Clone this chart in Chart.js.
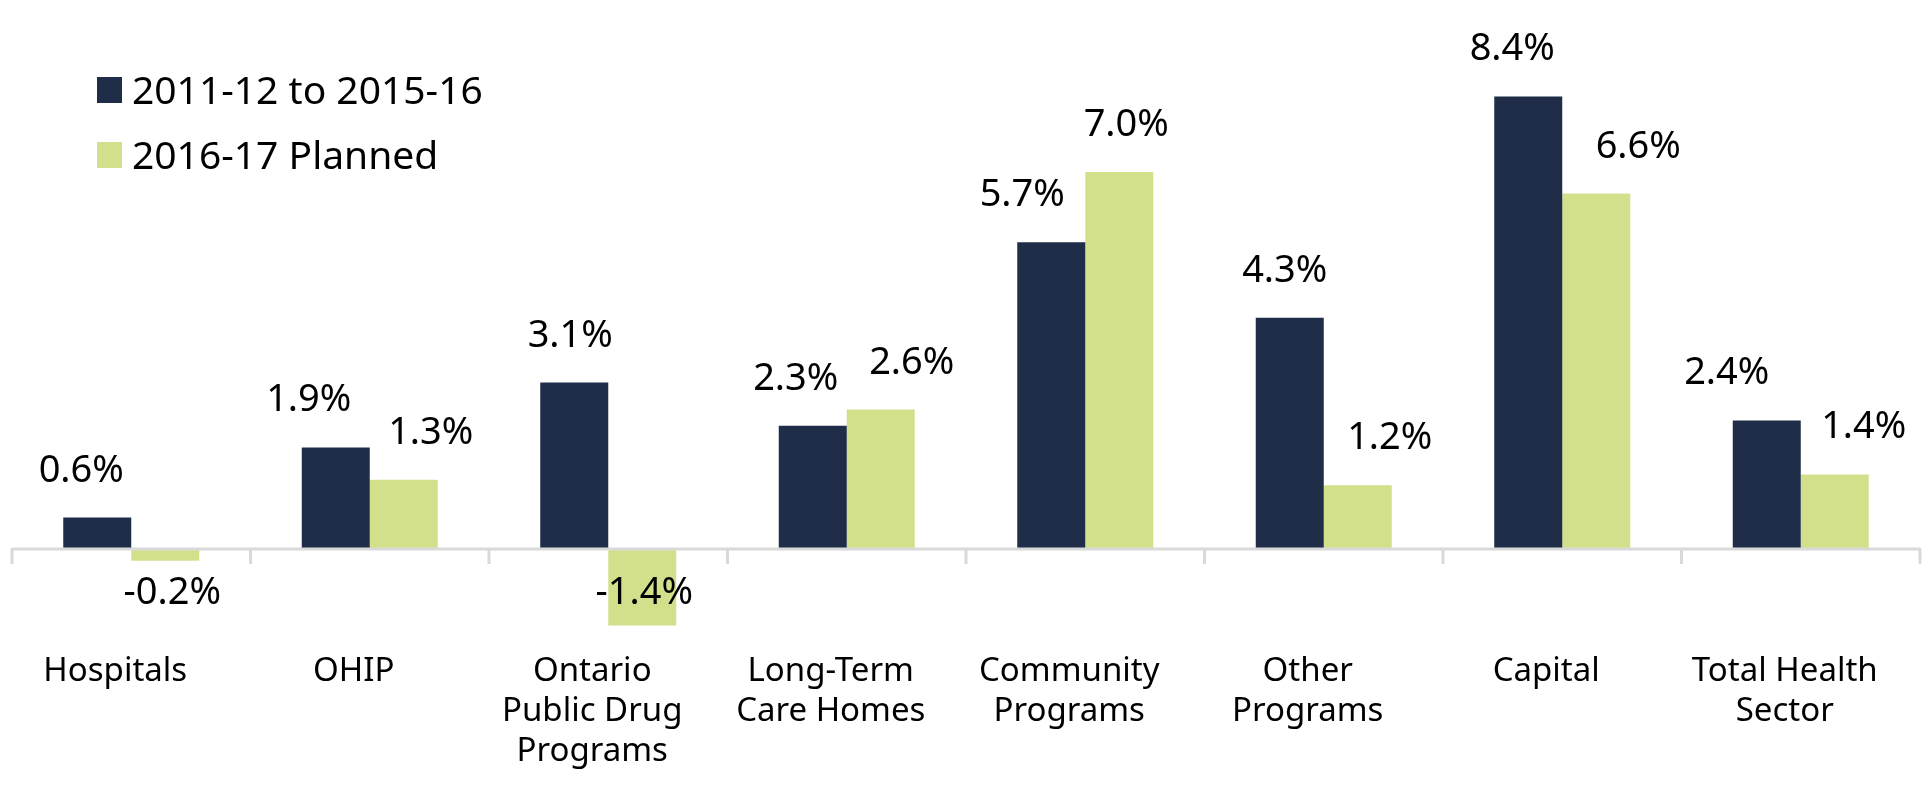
<!DOCTYPE html>
<html>
<head>
<meta charset="utf-8">
<title>Health sector spending growth</title>
<script src="https://cdn.jsdelivr.net/npm/chart.js@4.4.0/dist/chart.umd.min.js"></script>
<style>
  html, body { margin: 0; padding: 0; background: #ffffff; }
  #wrap { width: 1932px; height: 796px; }
</style>
</head>
<body>
<div id="wrap"><canvas id="myChart" width="1932" height="796"></canvas></div>
<script>
// Categories (one array per line of the wrapped label)
const categories = [
    ['Hospitals'],
    ['OHIP'],
    ['Ontario', 'Public Drug', 'Programs'],
    ['Long-Term', 'Care Homes'],
    ['Community', 'Programs'],
    ['Other', 'Programs'],
    ['Capital'],
    ['Total Health', 'Sector'],
];

const seriesNames = ['2011-12 to 2015-16', '2016-17 Planned'];

// Average annual growth, %
const growthPast = [0.6, 1.9, 3.1, 2.3, 5.7, 4.3, 8.4, 2.4];
const growthPlanned = [-0.2, 1.3, -1.4, 2.6, 7.0, 1.2, 6.6, 1.4];

// Colours
const darkBlue = '#1F2D48';
const lightGreen = '#D3E08B';
const axisGrey = '#D9D9D9';

// Hand-placed label nudges (px, horizontal) as in the original
const labelShiftPast = [-16, -27, -4, -17, -29, -5, -16, -40];
const labelShiftPlanned = [7, 27, 2, 31, 7, 32, 42, 29];

const FONT = '"Noto Sans", "Open Sans", sans-serif';

const fmt = v => v.toFixed(1) + '%';

// Draws the zero axis with category ticks, value labels, category labels and legend
const extras = {
    id: 'extras',
    afterDatasetsDraw(chart) {
        const { ctx, chartArea, scales: { x, y } } = chart;
        const zero = y.getPixelForValue(0);
        ctx.save();

        // axis line at zero plus tick marks between categories
        ctx.strokeStyle = axisGrey;
        ctx.lineWidth = 3;
        ctx.beginPath();
        ctx.moveTo(chartArea.left, zero - 1);
        ctx.lineTo(chartArea.right, zero - 1);
        const step = (chartArea.right - chartArea.left) / categories.length;
        for (let k = 0; k <= categories.length; k++) {
            const tx = chartArea.left + k * step;
            ctx.moveTo(tx, zero - 2);
            ctx.lineTo(tx, zero + 14);
        }
        ctx.stroke();

        // value labels
        ctx.fillStyle = '#000000';
        ctx.font = '38px ' + FONT;
        ctx.textAlign = 'center';
        ctx.textBaseline = 'alphabetic';
        const shifts = [labelShiftPast, labelShiftPlanned];
        chart.data.datasets.forEach((ds, di) => {
            const meta = chart.getDatasetMeta(di);
            meta.data.forEach((bar, i) => {
                const v = ds.data[i];
                const lx = bar.x + shifts[di][i];
                const ly = v >= 0 ? bar.y - 36 : zero + 54;
                ctx.fillText(fmt(v), lx, ly);
            });
        });

        // category labels
        ctx.font = '33px ' + FONT;
        categories.forEach((lines, i) => {
            const cx = x.getPixelForValue(i) - 16;
            lines.forEach((line, li) => {
                ctx.fillText(line, cx, 681 + li * 40);
            });
        });

        // legend
        ctx.textAlign = 'left';
        ctx.font = '39px ' + FONT;
        const colours = [darkBlue, lightGreen];
        seriesNames.forEach((name, i) => {
            const top = 77 + i * 65;
            ctx.fillStyle = colours[i];
            ctx.fillRect(97, top, 25, 26);
            ctx.fillStyle = '#000000';
            ctx.fillText(name, 132, top + 27);
        });

        ctx.restore();
    },
};

const data = {
    labels: categories,
    datasets: [
        {
            label: seriesNames[0],
            data: growthPast,
            backgroundColor: darkBlue,
            borderWidth: 0,
        },
        {
            label: seriesNames[1],
            data: growthPlanned,
            backgroundColor: lightGreen,
            borderWidth: 0,
        },
    ],
};

const config = {
    type: 'bar',
    data: data,
    options: {
        responsive: false,
        animation: false,
        devicePixelRatio: 1,
        layout: {
            padding: { left: 12, right: 12, top: 10, bottom: 138 },
        },
        datasets: {
            bar: {
                categoryPercentage: 0.5702,
                barPercentage: 1.0,
            },
        },
        scales: {
            x: {
                display: false,
                offset: true,
            },
            y: {
                display: false,
                min: -2,
                max: 10,
            },
        },
        plugins: {
            legend: { display: false },
            tooltip: { enabled: false },
        },
    },
    plugins: [extras],
};

const ctx = document.getElementById('myChart').getContext('2d');
const myChart = new Chart(ctx, config);
</script>
</body>
</html>
